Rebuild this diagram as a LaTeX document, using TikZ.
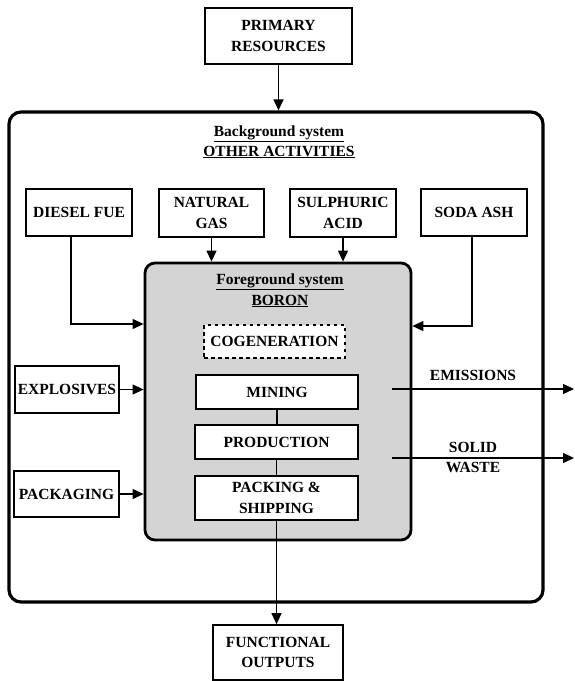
\documentclass[tikz,border=0pt]{standalone}
\usepackage{fontspec}
\setmainfont{Liberation Serif}
\usetikzlibrary{arrows.meta}
\newcommand\figfont{\fontsize{15.5}{20.5}\selectfont\bfseries}
\tikzset{
  box/.style={draw, line width=1.7pt, fill=white, align=center, inner sep=0pt, font=\figfont},
  lbl/.style={font=\figfont, inner sep=0pt, align=center},
  arr/.style={line width=1.2pt, -{Triangle[length=11pt,width=10pt]}},
  ln/.style={line width=1.2pt},
}
\begin{document}
\begin{tikzpicture}[x=1pt,y=-1pt]
\useasboundingbox (0,0) rectangle (574,681);
% outer background system
\node[draw, line width=3.2pt, rounded corners=12pt, minimum width=534pt, minimum height=490pt, inner sep=0pt] (outer) at (276,357) {};
\node[box, minimum width=147pt, minimum height=56pt] (primary) at (278.5,36) {PRIMARY\\RESOURCES};
\node[lbl, anchor=base] (bgt) at (279,136) {\underline{Background system}};
\node[lbl, anchor=base] (bga) at (279,156) {\underline{OTHER ACTIVITIES}};
% input boxes
\node[box, minimum width=106pt, minimum height=47pt] (diesel) at (79,212.5) {DIESEL FUE};
\node[box, minimum width=105pt, minimum height=48pt] (natural) at (211.5,213) {NATURAL\\GAS};
\node[box, minimum width=106pt, minimum height=48pt] (sulph) at (343,213) {SULPHURIC\\ACID};
\node[box, minimum width=106pt, minimum height=47pt] (soda) at (474,212.5) {SODA ASH};
\node[box, minimum width=104pt, minimum height=47pt] (explo) at (67,389.5) {EXPLOSIVES};
\node[box, minimum width=105pt, minimum height=46pt] (packg) at (66.5,494) {PACKAGING};
% foreground system
\node[draw, line width=2.8pt, rounded corners=10pt, fill=black!17, minimum width=266pt, minimum height=277pt, inner sep=0pt] (fg) at (278,401.5) {};
\node[lbl, anchor=base] (fgt) at (280,284) {\underline{Foreground system}};
\node[lbl, anchor=base] (fgb) at (280,305) {\underline{BORON}};
\node[box, line width=2pt, dash pattern=on 3.5pt off 3.5pt, minimum width=141pt, minimum height=33pt] (cogen) at (274.5,341.5) {COGENERATION};
\node[box, minimum width=162pt, minimum height=34pt] (mining) at (277,392) {MINING};
\node[box, minimum width=163pt, minimum height=34pt] (prod) at (276.5,442) {PRODUCTION};
\node[box, minimum width=163pt, minimum height=44pt] (pack) at (276.5,498) {PACKING \&\\SHIPPING};
\node[box, minimum width=130pt, minimum height=55pt] (func) at (278,652.5) {FUNCTIONAL\\OUTPUTS};
% coordinates
\coordinate (dl) at (71,324);
\coordinate (sl) at (472,326);
\coordinate (emS) at (392,389);
\coordinate (emE) at (574,389);
\coordinate (swS) at (392,458);
\coordinate (swE) at (574,458);
% connectors
\draw[arr] (primary.south) -- (primary.south |- outer.north);
\draw[arr] (diesel.south -| dl) |- (dl -| fg.west);
\draw[arr] (natural.south) -- (natural.south |- fg.north);
\draw[arr] (sulph.south) -- (sulph.south |- fg.north);
\draw[arr] (soda.south -| sl) |- (sl -| fg.east);
\draw[arr] (explo.east) -- (explo.east -| fg.west);
\draw[arr] (packg.east) -- (packg.east -| fg.west);
\draw[ln] (mining.south) -- (mining.south |- prod.north);
\draw[ln] (prod.south) -- (prod.south |- pack.north);
\draw[arr] (pack.south) -- (pack.south |- func.north);
\draw[arr] (emS) -- (emE);
\draw[arr] (swS) -- (swE);
\node[lbl, anchor=base] (eml) at (473,380) {EMISSIONS};
\node[lbl, anchor=base] (swl1) at (473,452) {SOLID};
\node[lbl, anchor=base] (swl2) at (473,472) {WASTE};
\end{tikzpicture}
\end{document}
